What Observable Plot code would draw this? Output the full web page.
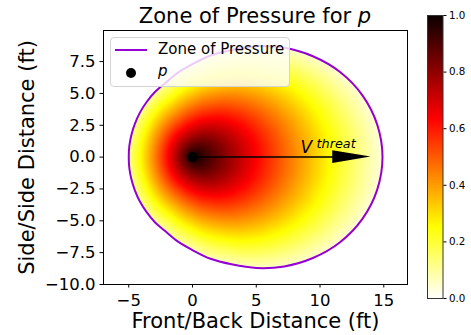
<!DOCTYPE html>
<html>
<head>
<meta charset="utf-8">
<script src="https://cdn.jsdelivr.net/npm/d3@7"></script>
<script src="https://cdn.jsdelivr.net/npm/@observablehq/plot@0.6"></script>
<style>
  html, body { margin: 0; padding: 0; background: white; }
  #wrap { position: relative; width: 471px; height: 335px; font-family: "DejaVu Sans", sans-serif; overflow: hidden; }
  #wrap > svg { position: absolute; left: 0; top: 0; }
  .title { position: absolute; left: 103px; top: 6px; width: 304px; text-align: center; font-size: 21px; line-height: 21px; white-space: nowrap; }
  .legend { position: absolute; left: 110px; top: 37px; width: 178px; height: 48px; border: 1px solid #d4d4d4; border-radius: 4px; background: rgba(255,255,255,0.8); }
  .legend .sw { position: absolute; left: 4px; top: 11px; width: 32px; height: 2px; background: #9400d3; }
  .legend .dot { position: absolute; left: 15px; top: 30px; width: 10px; height: 10px; border-radius: 50%; background: black; }
  .legend .lab { position: absolute; left: 47px; font-size: 15px; line-height: 15px; white-space: nowrap; }
</style>
</head>
<body>
<div id="wrap"></div>
<script>
// ---- data ----
const xDomain = [-6.98, 16.86];
const yDomain = [-10, 9.94];
const xTicks = [-5, 0, 5, 10, 15];
const yTicks = [-10, -7.5, -5, -2.5, 0, 2.5, 5, 7.5];
const colorTicks = [0, 0.2, 0.4, 0.6, 0.8, 1.0];

// boundary of the zone of pressure: radius (ft) by angle from the threat direction (deg)
const boundaryAngles = [0, 10, 20, 30, 40, 50, 60, 70, 80, 90, 100, 110, 120, 130, 140, 150, 160, 170, 180];
const boundaryRadii = [14.9, 14.71, 14.18, 13.36, 12.32, 11.2, 10.05, 8.95, 8.1, 7.3, 6.72, 6.2, 5.9, 5.62, 5.4, 5.22, 5.1, 5.03, 5.0];

// pressure read along rays from p, by fraction of the distance to the boundary
const profileFraction = [0, .1, .2, .3, .4, .5, .6, .7, .8, .9, 1];
const profileAngles = [0, 45, 90, 135, 180];
const profile0   = [1, .888, .78, .673, .569, .468, .371, .278, .189, .108, .036];
const profile45  = [1, .891, .785, .681, .579, .48, .385, .293, .206, .125, .052];
const profile90  = [1, .895, .793, .693, .595, .499, .407, .318, .233, .153, .08];
const profile135 = [1, .899, .801, .704, .61, .517, .428, .342, .259, .18, .107];
const profile180 = [1, .901, .803, .708, .615, .524, .435, .35, .268, .189, .116];

// colormap (hot, reversed)
const colorStops = [0, 0.254, 0.635, 1];
const colorRange = ["#ffffff", "#ffff00", "#ff0000", "#0b0000"];

const playerP = [{x: 0, y: 0}];
const threatStart = {x: 0, y: 0};
const threatEnd = {x: 14, y: 0};
const headLength = 3;
const headWidth = 1;
const threatLabel = [{text: "V", x: 8.47, y: 0.75}];
const threatSup = [{text: "threat", x: 9.73, y: 1.07}];

const titleText = "Zone of Pressure for ";
const xLabel = "Front/Back Distance (ft)";
const yLabel = "Side/Side Distance (ft)";
const legendLine = "Zone of Pressure";
const legendDot = "p";

// ---- derived ----
const radiusAt = d3.scaleLinear(boundaryAngles, boundaryRadii);
const profileScales = [profile0, profile45, profile90, profile135, profile180]
  .map(vals => d3.scaleLinear(profileFraction, vals).clamp(true));
function pressureAt(x, y) {
  const d = Math.hypot(x - threatStart.x, y - threatStart.y);
  const ang = Math.atan2(Math.abs(y - threatStart.y), x - threatStart.x) * 180 / Math.PI;
  const f = d / radiusAt(ang);
  if (f > 1) return NaN;
  let i = d3.bisectRight(profileAngles, ang) - 1;
  i = Math.max(0, Math.min(profileAngles.length - 2, i));
  const t = (ang - profileAngles[i]) / (profileAngles[i + 1] - profileAngles[i]);
  return profileScales[i](f) * (1 - t) + profileScales[i + 1](f) * t;
}
const boundaryPts = [];
for (const a of boundaryAngles) {
  const r = radiusAt(a), t = a * Math.PI / 180;
  boundaryPts.push({x: r * Math.cos(t), y: r * Math.sin(t)});
}
for (let i = boundaryAngles.length - 2; i > 0; i--) {
  const a = boundaryAngles[i], r = boundaryRadii[i], t = a * Math.PI / 180;
  boundaryPts.push({x: r * Math.cos(t), y: -r * Math.sin(t)});
}
const shaft = [threatStart, {x: threatEnd.x - headLength, y: threatEnd.y}];
const head = [
  {x: threatEnd.x - headLength, y1: threatEnd.y - headWidth / 2, y2: threatEnd.y + headWidth / 2},
  {x: threatEnd.x, y1: threatEnd.y, y2: threatEnd.y}
];

const colorScale = {type: "linear", domain: colorStops, range: colorRange, interpolate: "rgb"};

const main = Plot.plot({
  width: 471, height: 335,
  marginLeft: 103, marginRight: 64, marginTop: 30, marginBottom: 51,
  style: {background: "transparent", fontFamily: "DejaVu Sans", overflow: "visible"},
  x: {domain: xDomain, label: null},
  y: {domain: yDomain, label: null},
  color: colorScale,
  marks: [
    Plot.raster({x1: xDomain[0], x2: xDomain[1], y1: yDomain[0], y2: yDomain[1], fill: pressureAt, pixelSize: 1}),
    Plot.line(boundaryPts, {x: "x", y: "y", curve: "catmull-rom-closed", stroke: "#9400d3", strokeWidth: 2}),
    Plot.line(shaft, {x: "x", y: "y", stroke: "black", strokeWidth: 1.5}),
    Plot.areaY(head, {x: "x", y1: "y1", y2: "y2", fill: "black", curve: "linear"}),
    Plot.dot(playerP, {x: "x", y: "y", r: 5, fill: "black", stroke: null}),
    Plot.text(threatLabel, {x: "x", y: "y", text: "text", textAnchor: "start", fontSize: 17, fontStyle: "italic", fill: "black"}),
    Plot.text(threatSup, {x: "x", y: "y", text: "text", textAnchor: "start", fontSize: 12.8, fontStyle: "italic", fill: "black"}),
    Plot.frame({stroke: "black", strokeWidth: 1}),
    Plot.axisX({ticks: xTicks, tickSize: 3.5, tickPadding: 6, fontSize: 16.5, label: null}),
    Plot.axisY({ticks: yTicks, tickFormat: ".1f", tickSize: 3.5, tickPadding: 4.5, fontSize: 16.5, label: null}),
    Plot.text([xLabel], {text: d => d, frameAnchor: "bottom", textAnchor: "middle", lineAnchor: "middle", dy: 36.3, fontSize: 21}),
    Plot.text([yLabel], {text: d => d, frameAnchor: "left", textAnchor: "middle", lineAnchor: "middle", dx: -76.7, rotate: -90, fontSize: 21})
  ]
});

const bar = Plot.plot({
  width: 471, height: 335,
  marginLeft: 427, marginRight: 28.5, marginTop: 15, marginBottom: 37,
  style: {background: "transparent", fontFamily: "DejaVu Sans", overflow: "visible"},
  x: {domain: [0, 1], axis: null},
  y: {domain: [0, 1], label: null},
  color: colorScale,
  marks: [
    Plot.raster({x1: 0, x2: 1, y1: 0, y2: 1, fill: (x, y) => y, pixelSize: 1}),
    Plot.frame({stroke: "#333", strokeWidth: 1}),
    Plot.axisY({anchor: "right", ticks: colorTicks, tickFormat: ".1f", tickSize: 3, tickPadding: 3, fontSize: 10.3, label: null})
  ]
});

const wrap = document.getElementById("wrap");
wrap.appendChild(main);
wrap.appendChild(bar);

const title = document.createElement("div");
title.className = "title";
title.append(titleText);
const ip = document.createElement("i");
ip.textContent = legendDot;
title.append(ip);
wrap.appendChild(title);

const legend = document.createElement("div");
legend.className = "legend";
legend.innerHTML = `<div class="sw"></div><div class="lab" style="top:4.3px"></div><div class="dot"></div><div class="lab" style="top:25.8px;font-style:italic"></div>`;
legend.querySelectorAll(".lab")[0].textContent = legendLine;
legend.querySelectorAll(".lab")[1].textContent = legendDot;
wrap.appendChild(legend);
</script>
</body>
</html>
